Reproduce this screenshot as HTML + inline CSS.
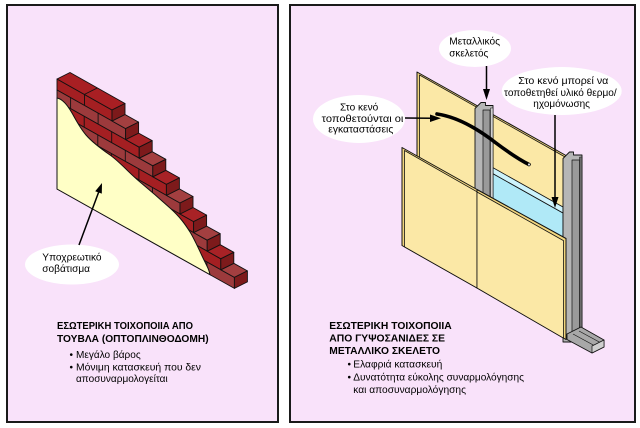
<!DOCTYPE html>
<html>
<head>
<meta charset="utf-8">
<style>
html,body{margin:0;padding:0;background:#fff;width:640px;height:428px;overflow:hidden}
svg{display:block}
text{font-family:"Liberation Sans",Arial,sans-serif;fill:#000}
</style>
</head>
<body>
<svg width="640" height="428" viewBox="0 0 640 428" xmlns="http://www.w3.org/2000/svg">
<rect x="0" y="0" width="640" height="428" fill="#fff"/>
<rect x="7" y="5" width="271" height="417" fill="#f9e2fa" stroke="#1a1a1a" stroke-width="2"/>
<rect x="290" y="5" width="345" height="417" fill="#f9e2fa" stroke="#1a1a1a" stroke-width="2"/>

<!-- ===== BRICK WALL ===== -->
<g stroke="#111" stroke-width="0.9" stroke-linejoin="round">
<polygon points="57,79 112,110 112,121 57,90" fill="#a41f22"/>
<polygon points="57,90 125.6,128.6 125.6,139.6 57,101" fill="#9c3a3c"/>
<polygon points="57,101 139.2,147.2 139.2,158.2 57,112" fill="#a41f22"/>
<polygon points="57,112 152.8,165.8 152.8,176.8 57,123" fill="#9c3a3c"/>
<polygon points="57,123 166.4,184.4 166.4,195.4 57,134" fill="#a41f22"/>
<polygon points="57,134 180,203 180,214 57,145" fill="#9c3a3c"/>
<polygon points="57,145 193.6,221.6 193.6,232.6 57,156" fill="#a41f22"/>
<polygon points="57,156 207.2,240.2 207.2,251.2 57,167" fill="#9c3a3c"/>
<polygon points="57,167 220.8,258.8 220.8,269.8 57,178" fill="#a41f22"/>
<polygon points="57,178 234.4,277.4 234.4,288.4 57,189" fill="#9c3a3c"/>
<path fill="none" d="M84.5,94.4V105.4 M98.1,113V124 M70.6,97.6V108.6 M111.7,131.6V142.6 M84.2,116.2V127.2 M125.3,150.2V161.2 M97.8,134.8V145.8 M70.3,119.4V130.4 M138.9,168.9V179.9 M111.4,153.5V164.5 M83.9,138.1V149.1 M152.5,187.5V198.5 M125,172.1V183.1 M97.5,156.7V167.7 M70,141.3V152.3 M166.1,206.1V217.1 M138.6,190.7V201.7 M111.1,175.3V186.3 M83.6,159.9V170.9 M179.7,224.7V235.7 M152.2,209.3V220.3 M124.7,193.9V204.9 M97.2,178.5V189.5 M69.7,163.1V174.1 M193.3,243.3V254.3 M165.8,227.9V238.9 M138.3,212.5V223.5 M110.8,197.1V208.1 M83.3,181.7V192.7 M206.9,261.9V272.9 M179.4,246.5V257.5 M151.9,231.1V242.1 M124.4,215.7V226.7 M96.9,200.3V211.3 M69.4,184.9V195.9"/>
<polygon points="57,79 112,110 125,103.5 70,72.5" fill="#a81f23"/>
<polygon points="112,121 125.6,128.6 138.6,122.1 125,114.5" fill="#a33f40"/>
<polygon points="125.6,139.6 139.2,147.2 152.2,140.7 138.6,133.1" fill="#a82226"/>
<polygon points="139.2,158.2 152.8,165.8 165.8,159.3 152.2,151.7" fill="#a33f40"/>
<polygon points="152.8,176.8 166.4,184.4 179.4,177.9 165.8,170.3" fill="#a82226"/>
<polygon points="166.4,195.4 180,203 193,196.5 179.4,188.9" fill="#a33f40"/>
<polygon points="180,214 193.6,221.6 206.6,215.1 193,207.5" fill="#a82226"/>
<polygon points="193.6,232.6 207.2,240.2 220.2,233.7 206.6,226.1" fill="#a33f40"/>
<polygon points="207.2,251.2 220.8,258.8 233.8,252.3 220.2,244.7" fill="#a82226"/>
<polygon points="220.8,269.8 234.4,277.4 247.4,270.9 233.8,263.3" fill="#a33f40"/>
<polygon points="112,110 125,103.5 125,114.5 112,121" fill="#7d1a1b"/>
<polygon points="125.6,128.6 138.6,122.1 138.6,133.1 125.6,139.6" fill="#7d1a1b"/>
<polygon points="139.2,147.2 152.2,140.7 152.2,151.7 139.2,158.2" fill="#7d1a1b"/>
<polygon points="152.8,165.8 165.8,159.3 165.8,170.3 152.8,176.8" fill="#7d1a1b"/>
<polygon points="166.4,184.4 179.4,177.9 179.4,188.9 166.4,195.4" fill="#7d1a1b"/>
<polygon points="180,203 193,196.5 193,207.5 180,214" fill="#7d1a1b"/>
<polygon points="193.6,221.6 206.6,215.1 206.6,226.1 193.6,232.6" fill="#7d1a1b"/>
<polygon points="207.2,240.2 220.2,233.7 220.2,244.7 207.2,251.2" fill="#7d1a1b"/>
<polygon points="220.8,258.8 233.8,252.3 233.8,263.3 220.8,269.8" fill="#7d1a1b"/>
<polygon points="234.4,277.4 247.4,270.9 247.4,281.9 234.4,288.4" fill="#7d1a1b"/>
<line x1="84.5" y1="94.4" x2="97.5" y2="87.9"/>
</g>
<path d="M57,98 C63,99 68,106 72,113 S80,128 86,135 S100,148 110,155 S128,172 140,182 S160,199 170,208 S185,224 190,232 S200,252 204,260 S209,270 210,274.7 L57,189 Z" fill="#ffffc6" stroke="#111" stroke-width="1"/>

<!-- callout left -->
<ellipse cx="72" cy="264.5" rx="47" ry="20" fill="#fff"/>
<line x1="79" y1="245" x2="98.6" y2="192.3" stroke="#000" stroke-width="1.5"/>
<polygon points="102,183 101.8,193.6 95.2,191.2" fill="#000"/>
<text x="42.3" y="260.5" font-size="10" textLength="59.3" lengthAdjust="spacingAndGlyphs">Υποχρεωτικό</text>
<text x="42.3" y="272" font-size="10" textLength="47.7" lengthAdjust="spacingAndGlyphs">σοβάτισμα</text>

<!-- left texts -->
<text x="57" y="329" font-size="10" font-weight="bold" textLength="136" lengthAdjust="spacingAndGlyphs">ΕΣΩΤΕΡΙΚΗ ΤΟΙΧΟΠΟΙΙΑ ΑΠΟ</text>
<text x="57" y="342" font-size="10" font-weight="bold" textLength="151.6" lengthAdjust="spacingAndGlyphs">ΤΟΥΒΛΑ (ΟΠΤΟΠΛΙΝΘΟΔΟΜΗ)</text>
<text x="69.5" y="358" font-size="10">•</text>
<text x="76" y="358" font-size="10" textLength="64.7" lengthAdjust="spacingAndGlyphs">Μεγάλο βάρος</text>
<text x="69.5" y="370.5" font-size="10">•</text>
<text x="76" y="370.5" font-size="10" textLength="125" lengthAdjust="spacingAndGlyphs">Μόνιμη κατασκευή που δεν</text>
<text x="76" y="382" font-size="10" textLength="91.7" lengthAdjust="spacingAndGlyphs">αποσυναρμολογείται</text>

<!-- ===== GYPSUM WALL ===== -->
<g stroke="#111" stroke-linejoin="round">
<polygon points="417,72 566,155.5 566,300 417,220" fill="#f2d67e" stroke-width="1"/>
<polygon points="419.5,75 566,157.5 566,300 419.5,222" fill="#fbe8a6" stroke-width="0.8"/>
<polygon points="490,172 563,213 563,262 490,222" fill="#b0e9f7" stroke-width="0.8"/>
<polygon points="490,166 563,207 563,213 490,172" fill="#cdf3fc" stroke-width="0.8"/>
<path d="M563,158.5 L569.5,152 L573.5,152 L573.5,155 L582,155 L582,342 L563,342 Z" fill="#b6b6b6" stroke-width="0.9"/>
<rect x="572" y="160" width="7.5" height="182" fill="#9a9a9a" stroke-width="0.7"/>
<rect x="579.5" y="157" width="2.5" height="185" fill="#6c6c6c" stroke-width="0.5"/>
<path d="M475,108.5 L481,102.5 L485.5,102.5 L485.5,105.5 L493,105.5 L493,205 L475,205 Z" fill="#b6b6b6" stroke-width="0.9"/>
<rect x="483" y="110" width="7" height="95" fill="#9a9a9a" stroke-width="0.7"/>
<rect x="490.5" y="108" width="2.5" height="97" fill="#d0d0d0" stroke-width="0.5"/>
</g>
<path d="M437,114 C458,117 478,129 496,143 C508,152 518,159 529,164.5" fill="none" stroke="#000" stroke-width="3.6" stroke-linecap="round"/>
<circle cx="529" cy="164.5" r="1.1" fill="#ddd"/>
<g stroke="#111" stroke-linejoin="round">
<polygon points="402,147.5 477,189.5 477,288 402,245.5" fill="#f2d67e" stroke-width="1"/>
<polygon points="404.5,150.5 477,191.8 477,288 404.5,246.9" fill="#fbe8a6" stroke-width="0.8"/>
<polygon points="477,189.5 566,238.5 566,339.5 477,288" fill="#f2d67e" stroke-width="1"/>
<polygon points="477,192 563.5,240.6 563.5,338.1 477,288" fill="#fbe8a6" stroke-width="0.8"/>
<path d="M567,334 L581,327 L604,340 L604,347 L592,353 L567,339.5 Z" fill="#a8a8a8" stroke-width="0.9"/>
<path d="M573,334 L596,346.5 M579,331 L602,343.5" fill="none" stroke-width="0.7"/>
<polygon points="592,346 604,340 604,347 592,353" fill="#cfcfcf" stroke-width="0.7"/>
</g>

<!-- callouts right -->
<ellipse cx="475" cy="48.5" rx="36" ry="18.5" fill="#fff"/>
<ellipse cx="561.7" cy="91" rx="60" ry="24" fill="#fff"/>
<ellipse cx="359" cy="119" rx="46" ry="24" fill="#fff"/>
<line x1="486.5" y1="66" x2="486.5" y2="91" stroke="#000" stroke-width="1.5"/>
<polygon points="483,89 490,89 486.5,100" fill="#000"/>
<line x1="555" y1="115" x2="555" y2="199" stroke="#000" stroke-width="1.5"/>
<polygon points="551.5,197 558.5,197 555,208" fill="#000"/>
<line x1="405" y1="118" x2="432" y2="118.3" stroke="#000" stroke-width="1.5"/>
<polygon points="430,114.5 430,122 441,118.3" fill="#000"/>

<text x="449.3" y="44.3" font-size="10" textLength="50.7" lengthAdjust="spacingAndGlyphs">Μεταλλικός</text>
<text x="449.3" y="56.7" font-size="10" textLength="39" lengthAdjust="spacingAndGlyphs">σκελετός</text>
<text x="518.3" y="84" font-size="10" textLength="90" lengthAdjust="spacingAndGlyphs">Στο κενό μπορεί να</text>
<text x="504" y="96" font-size="10" textLength="112.7" lengthAdjust="spacingAndGlyphs">τοποθετηθεί υλικό θερμο/</text>
<text x="533.3" y="107" font-size="10" textLength="56.7" lengthAdjust="spacingAndGlyphs">ηχομόνωσης</text>
<text x="340" y="110.5" font-size="10" textLength="38.3" lengthAdjust="spacingAndGlyphs">Στο κενό</text>
<text x="321.7" y="122" font-size="10" textLength="81.7" lengthAdjust="spacingAndGlyphs">τοποθετούνται οι</text>
<text x="328.3" y="132.7" font-size="10" textLength="65" lengthAdjust="spacingAndGlyphs">εγκαταστάσεις</text>

<!-- right texts -->
<text x="329.3" y="329" font-size="10" font-weight="bold" textLength="122.4" lengthAdjust="spacingAndGlyphs">ΕΣΩΤΕΡΙΚΗ ΤΟΙΧΟΠΟΙΙΑ</text>
<text x="329.3" y="341.7" font-size="10" font-weight="bold" textLength="115.7" lengthAdjust="spacingAndGlyphs">ΑΠΟ ΓΥΨΟΣΑΝΙΔΕΣ ΣΕ</text>
<text x="329.3" y="354" font-size="10" font-weight="bold" textLength="110.7" lengthAdjust="spacingAndGlyphs">ΜΕΤΑΛΛΙΚΟ ΣΚΕΛΕΤΟ</text>
<text x="347.5" y="367.3" font-size="10">•</text>
<text x="353.3" y="367.3" font-size="10" textLength="89" lengthAdjust="spacingAndGlyphs">Ελαφριά κατασκευή</text>
<text x="347.5" y="380.5" font-size="10">•</text>
<text x="353.3" y="380.5" font-size="10" textLength="170.7" lengthAdjust="spacingAndGlyphs">Δυνατότητα εύκολης συναρμολόγησης</text>
<text x="353.3" y="393" font-size="10" textLength="112.7" lengthAdjust="spacingAndGlyphs">και αποσυναρμολόγησης</text>
</svg>
</body>
</html>
